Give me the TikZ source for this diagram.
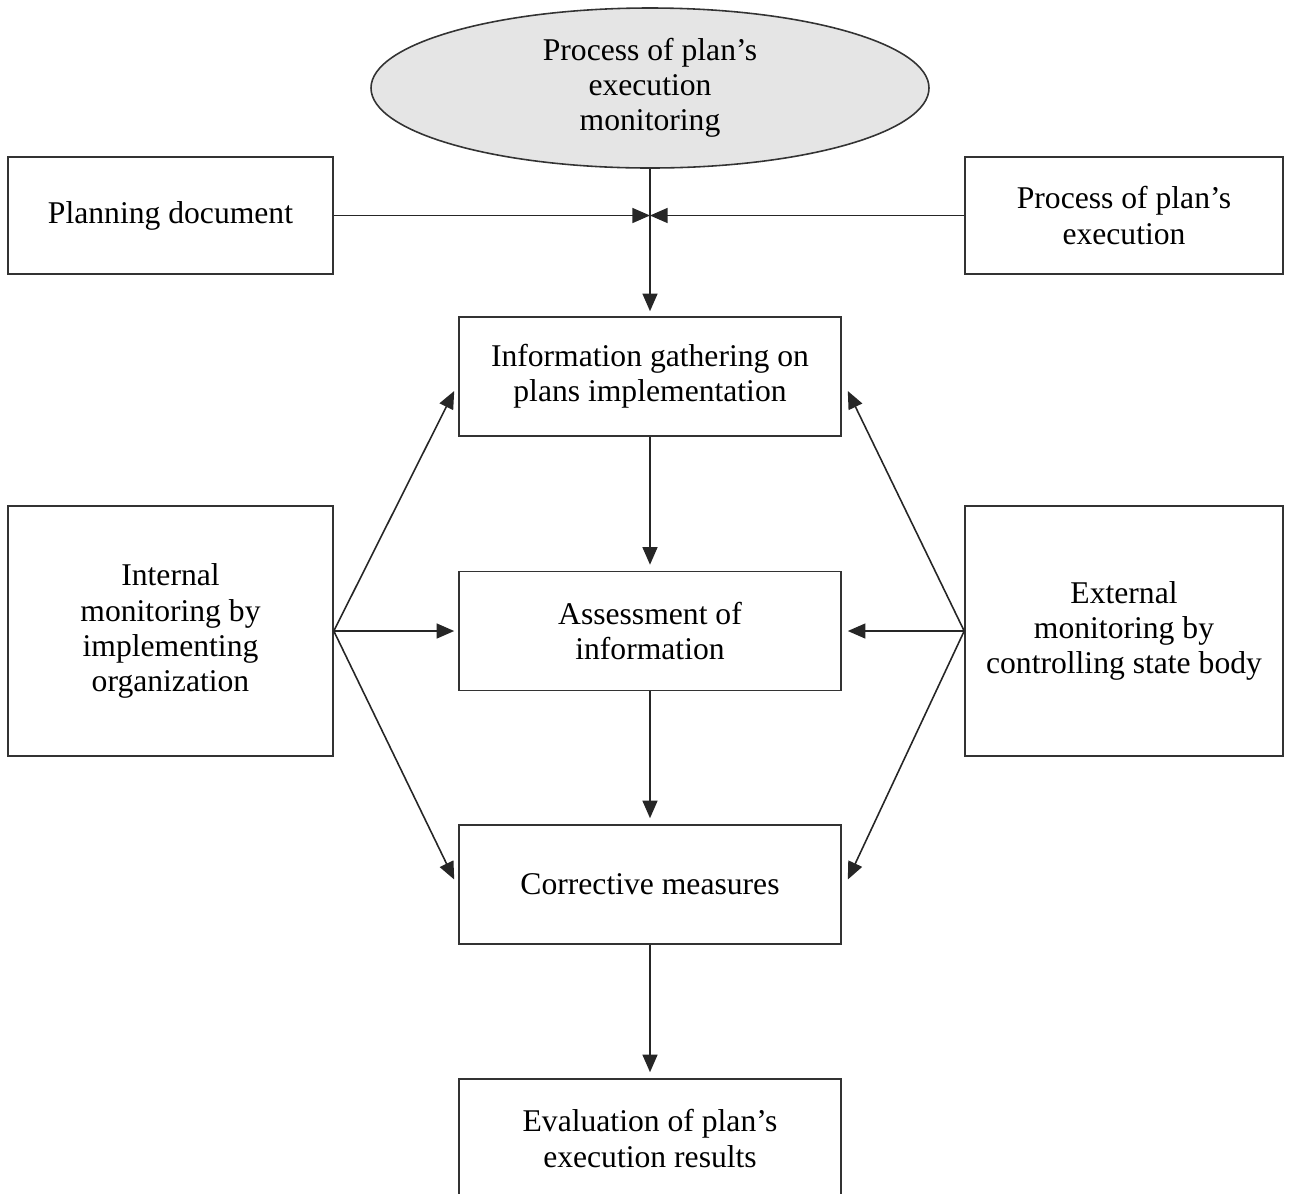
\documentclass[tikz,border=0pt]{standalone}
\usepackage{fontspec}
\setmainfont{Liberation Serif}
\usetikzlibrary{arrows.meta,shapes.geometric,calc}
\begin{document}
\begin{tikzpicture}[
  box/.style={draw=black!80, line width=0.9pt, align=center, inner sep=0pt,
    font=\fontsize{18}{20}\selectfont},
  link/.style={draw=black!85, line width=0.9pt, -{Triangle[length=10pt,width=8.5pt]}},
]
\useasboundingbox (0,0) rectangle (25.84,-23.86);
% top of the scheme
\node [box, ellipse, fill=black!10, minimum width=11.16cm, minimum height=3.2cm] (monitor) at (13.0,-1.76) {Process of plan’s\\execution\\monitoring};
\node [box, minimum width=6.5cm, minimum height=2.34cm] (plan) at (3.41,-4.31) {Planning document};
\node [box, minimum width=6.36cm, minimum height=2.34cm] (exec) at (22.48,-4.31) {Process of plan’s\\execution};
\coordinate (hub) at (monitor.south |- plan.east);
% middle column
\node [box, minimum width=7.64cm, minimum height=2.38cm] (gather) at (13.0,-7.53) {Information gathering on\\plans implementation};
\node [box, minimum width=7.64cm, minimum height=2.38cm] (assess) at (13.0,-12.62) {Assessment of\\information};
\node [box, minimum width=7.64cm, minimum height=2.38cm] (correct) at (13.0,-17.69) {Corrective measures};
\node [box, minimum width=7.64cm, minimum height=2.38cm] (result) at (13.0,-22.77) {Evaluation of plan’s\\execution results};
% side boxes
\node [box, minimum width=6.5cm, minimum height=5.0cm] (internal) at (3.41,-12.62) {Internal\\monitoring by\\implementing\\organization};
\node [box, minimum width=6.36cm, minimum height=5.0cm] (external) at (22.48,-12.62) {External\\monitoring by\\controlling state body};
% arrows
\draw [link] (plan.east) -- (hub);
\draw [link] (exec.west) -- (hub);
\draw [link, shorten >=0.1cm] (monitor.south) -- (gather.north);
\draw [link, shorten >=0.12cm] (gather.south) -- (assess.north);
\draw [link, shorten >=0.12cm] (assess.south) -- (correct.north);
\draw [link, shorten >=0.12cm] (correct.south) -- (result.north);
\draw [link] (internal.east) -- ($(gather.west)+(-0.08,-0.29)$);
\draw [link] (internal.east) -- ($(assess.west)+(-0.08,0)$);
\draw [link] (internal.east) -- ($(correct.west)+(-0.08,0.1)$);
\draw [link] (external.west) -- ($(gather.east)+(0.12,-0.29)$);
\draw [link] (external.west) -- ($(assess.east)+(0.12,0)$);
\draw [link] (external.west) -- ($(correct.east)+(0.12,0.1)$);
\end{tikzpicture}
\end{document}
